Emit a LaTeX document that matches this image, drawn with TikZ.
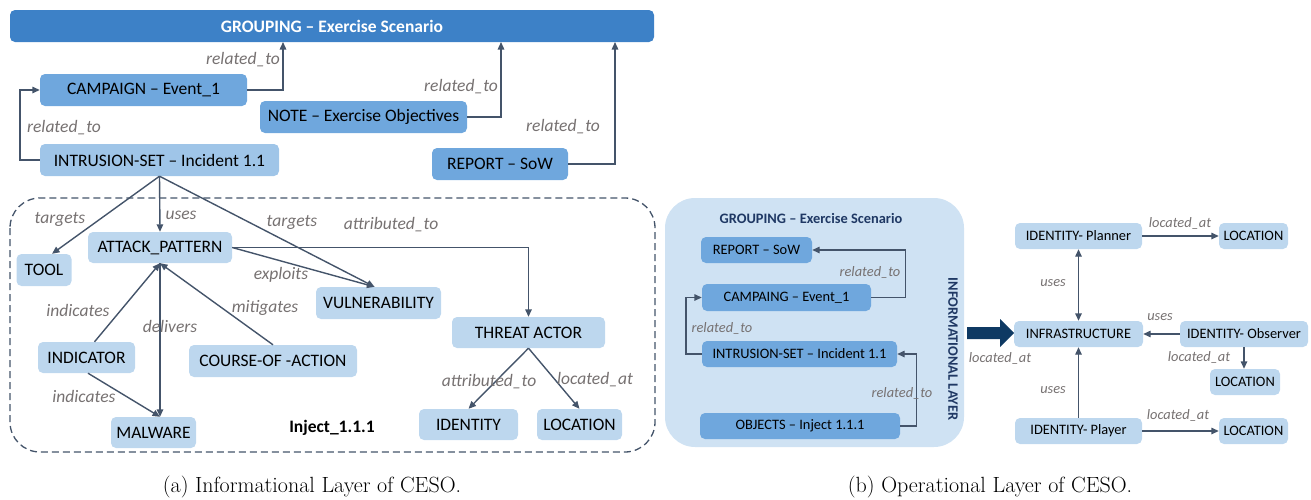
\documentclass[tikz,border=0pt]{standalone}
\usepackage{fontspec}
\newfontfamily\carl{Carlito}
\usetikzlibrary{arrows.meta,calc}

\definecolor{grpblue}{RGB}{61,129,199}
\definecolor{midblue}{RGB}{111,167,221}
\definecolor{lightblue}{RGB}{189,215,238}
\definecolor{intrblue}{RGB}{159,197,232}
\definecolor{panelblue}{RGB}{207,226,243}
\definecolor{edgecol}{RGB}{68,84,106}
\definecolor{lblcol}{RGB}{118,113,113}
\definecolor{navy}{RGB}{14,57,99}
\definecolor{titleblue}{RGB}{31,56,100}

\tikzset{
  box/.style={rounded corners=5pt, inner sep=0pt, align=center,
    font=\carl\fontsize{17.5}{20}\selectfont, text=black},
  sbox/.style={box, font=\carl\fontsize{14.4}{17}\selectfont},
  arr/.style={draw=edgecol, line width=1.4pt, -{Triangle[length=7.5pt,width=6.5pt]}},
  darr/.style={draw=edgecol, line width=1.4pt, {Triangle[length=7.5pt,width=6.5pt]}-{Triangle[length=7.5pt,width=6.5pt]}},
  lab/.style={font=\carl\itshape\fontsize{17.5}{20}\selectfont, text=lblcol, inner sep=0pt},
  slab/.style={font=\carl\itshape\fontsize{14.4}{17}\selectfont, text=lblcol, inner sep=0pt},
  capt/.style={font=\fontsize{22}{26}\selectfont, inner sep=0pt}
}

\begin{document}
\begin{tikzpicture}[x=1pt,y=-1pt]
\useasboundingbox (0,0) rectangle (1311,499);

% ---------------- (a) informational layer ----------------
\draw[edgecol, line width=1.3pt, dash pattern=on 7pt off 4pt, rounded corners=30pt]
  (10,198) rectangle (655,452);

\node[box, fill=grpblue, minimum width=644pt, minimum height=32pt, text=white,
      font=\carl\bfseries\fontsize{17.5}{20}\selectfont] (grp) at (332,26) {GROUPING \textendash{} Exercise Scenario};
\node[box, fill=midblue, minimum width=207pt, minimum height=32pt] (camp) at (143.5,90) {CAMPAIGN \textendash{} Event\_1};
\node[box, fill=midblue, minimum width=207pt, minimum height=32pt] (note) at (363.5,117) {NOTE \textendash{} Exercise Objectives};
\node[box, fill=midblue, minimum width=136pt, minimum height=32pt] (rep) at (500,164) {REPORT \textendash{} SoW};
\node[box, fill=intrblue, minimum width=239pt, minimum height=32pt] (intr) at (159.5,160) {INTRUSION-SET \textendash{} Incident 1.1};

\node[box, fill=lightblue, minimum width=55pt, minimum height=32pt] (tool) at (44,270) {TOOL};
\node[box, fill=lightblue, minimum width=144pt, minimum height=31pt] (ap) at (160,247.5) {ATTACK\_PATTERN};
\node[box, fill=lightblue, minimum width=125pt, minimum height=32pt] (vul) at (378.5,303) {VULNERABILITY};
\node[box, fill=lightblue, minimum width=97pt, minimum height=31pt] (ind) at (86.5,357.5) {INDICATOR};
\node[box, fill=lightblue, minimum width=168pt, minimum height=32pt] (coa) at (273,361) {COURSE-OF -ACTION};
\node[box, fill=lightblue, minimum width=85pt, minimum height=31pt] (mal) at (153.5,432.5) {MALWARE};
\node[box, fill=lightblue, minimum width=153pt, minimum height=31pt] (ta) at (528.5,332.5) {THREAT ACTOR};
\node[box, fill=lightblue, minimum width=99pt, minimum height=31pt] (iden) at (468.5,424.5) {IDENTITY};
\node[box, fill=lightblue, minimum width=85pt, minimum height=31pt] (loca) at (579.5,424.5) {LOCATION};
\node[box, font=\carl\bfseries\fontsize{17.5}{20}\selectfont] (inj) at (332,428) {Inject\_1.1.1};

% links up to the grouping
\coordinate (g1) at (283,42);
\coordinate (g2) at (501,42);
\coordinate (g3) at (615,42);
\draw[arr] (camp.east) -| (g1);
\draw[arr] (note.east) -| (g2);
\draw[arr] (rep.east) -| (g3);
\draw[arr] (intr.west) -- ++(-20,0) |- (camp.west);
\node[lab] at (243,60) {related\_to};
\node[lab] at (461,87) {related\_to};
\node[lab] at (563,127) {related\_to};
\node[lab] at (64,128) {related\_to};

% relations inside the inject
\draw[arr] (intr.south) -- ([xshift=8pt]tool.north);
\draw[arr] (intr.south) -- (ap.north);
\draw[arr] (intr.south) -- ([xshift=-4pt]vul.north);
\draw[arr] (ap.east) -| (ta.north);
\draw[arr] (ap.east) -- ([xshift=-4pt]vul.north);
\draw[arr] ([xshift=8pt]ind.north) -- (ap.south);
\draw[arr] (coa.north) -- (ap.south);
\draw[arr] (ap.south) -- ([xshift=6.5pt]mal.north);
\draw[arr] ([xshift=1.5pt]ind.south) -- ([xshift=6.5pt]mal.north);
\draw[arr] (ta.south) -- (iden.north);
\draw[arr] (ta.south) -- (loca.north);

\node[lab] at (60,219) {targets};
\node[lab] at (181,215) {uses};
\node[lab] at (292,222) {targets};
\node[lab] at (391,225) {attributed\_to};
\node[lab] at (281,275) {exploits};
\node[lab] at (78,310) {indicates};
\node[lab] at (170,326) {delivers};
\node[lab] at (265,308) {mitigates};
\node[lab] at (84,396) {indicates};
\node[lab] at (489,382) {attributed\_to};
\node[lab] at (595,380) {located\_at};

% ---------------- (b) operational layer ----------------
\fill[panelblue, rounded corners=30pt] (665,198) rectangle (964,447);
\node[font=\carl\bfseries\fontsize{14.4}{17}\selectfont, text=titleblue, inner sep=0pt] (btitle) at (811,218) {GROUPING \textendash{} Exercise Scenario};
\node[sbox, fill=midblue, minimum width=111pt, minimum height=26pt] (brep) at (756.5,250) {REPORT \textendash{} SoW};
\node[sbox, fill=midblue, minimum width=169pt, minimum height=27pt] (bcamp) at (786.5,297.5) {CAMPAING \textendash{} Event\_1};
\node[sbox, fill=midblue, minimum width=195pt, minimum height=26pt] (bintr) at (799.5,354) {INTRUSION-SET \textendash{} Incident 1.1};
\node[sbox, fill=midblue, minimum width=200pt, minimum height=26pt] (bobj) at (800,426) {OBJECTS \textendash{} Inject 1.1.1};

\draw[arr] (bcamp.east) -- ++(34,0) |- (brep.east);
\draw[arr] (bintr.west) -- ++(-16,0) |- (bcamp.west);
\draw[arr] (bobj.east) -- ++(16,0) |- (bintr.east);
\node[slab] at (870,272) {related\_to};
\node[slab] at (722,328) {related\_to};
\node[slab] at (902,393) {related\_to};

\node[font=\carl\bfseries\fontsize{14.4}{17}\selectfont, text=titleblue, inner sep=0pt, rotate=-90] (ilayer) at (953,349) {INFORMATIONAL LAYER};

% wide arrow from the informational to the operational layer
\fill[navy] (967,327) -- (1000,327) -- (1000,319) -- (1014,333) -- (1000,347) -- (1000,339) -- (967,339) -- cycle;
\node[slab] at (1000,358) {located\_at};

\node[sbox, fill=lightblue, minimum width=127pt, minimum height=26pt] (planner) at (1078.5,236) {IDENTITY- Planner};
\node[sbox, fill=lightblue, minimum width=69pt, minimum height=26pt] (locT) at (1253.5,236) {LOCATION};
\node[sbox, fill=lightblue, minimum width=129pt, minimum height=26pt] (infra) at (1078.5,334) {INFRASTRUCTURE};
\node[sbox, fill=lightblue, minimum width=128pt, minimum height=26pt] (obs) at (1244,334) {IDENTITY- Observer};
\node[sbox, fill=lightblue, minimum width=70pt, minimum height=26pt] (locM) at (1245,382) {LOCATION};
\node[sbox, fill=lightblue, minimum width=127pt, minimum height=26pt] (player) at (1078.5,431) {IDENTITY- Player};
\node[sbox, fill=lightblue, minimum width=69pt, minimum height=26pt] (locB) at (1253.5,431) {LOCATION};

\draw[arr] (planner.east) -- (locT.west);
\draw[darr] (planner.south) -- (infra.north);
\draw[arr] (obs.west) -- (infra.east);
\draw[arr] (obs.south) -- (obs.south |- locM.north);
\draw[arr] (player.north) -- (infra.south);
\draw[arr] (player.east) -- (locB.west);

\node[slab] at (1180,223) {located\_at};
\node[slab] at (1053,283) {uses};
\node[slab] at (1160,317) {uses};
\node[slab] at (1199,357) {located\_at};
\node[slab] at (1053,390) {uses};
\node[slab] at (1178,415) {located\_at};

% ---------------- captions ----------------
\node[capt] (capa) at (312,487) {(a) Informational Layer of CESO.};
\node[capt] (capb) at (990,487) {(b) Operational Layer of CESO.};
\end{tikzpicture}
\end{document}
